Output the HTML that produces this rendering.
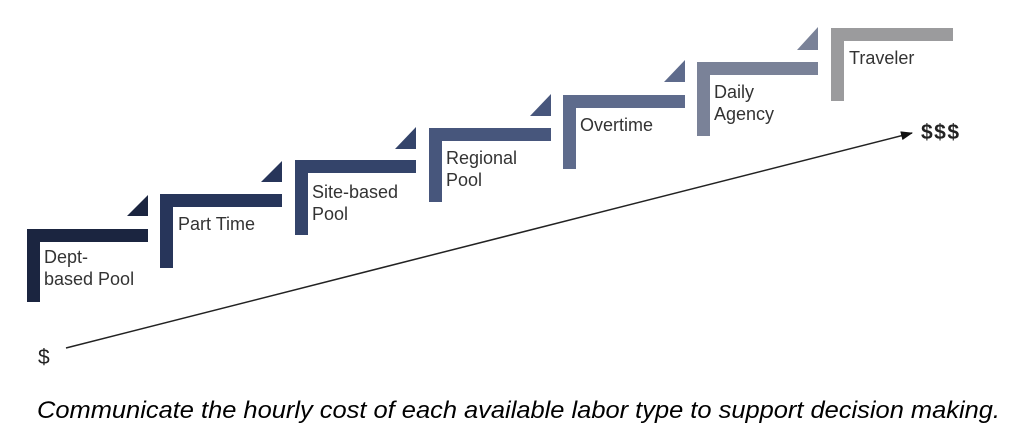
<!DOCTYPE html>
<html><head><meta charset="utf-8"><style>
html,body{margin:0;padding:0;background:#fff;width:1012px;height:440px;overflow:hidden}
svg text{font-family:"Liberation Sans",sans-serif}
</style></head><body>
<svg width="1012" height="440" viewBox="0 0 1012 440" xmlns="http://www.w3.org/2000/svg">
<defs><marker id="ah" markerWidth="12" markerHeight="9" refX="11" refY="4.5" orient="auto" markerUnits="userSpaceOnUse"><path d="M0,0 L12,4.5 L0,9 z" fill="#111"/></marker></defs>
<g>
<path d="M27,229 h121 v13 h-108 v60 h-13 z" fill="#1b2540"/>
<path d="M148,195 v21 h-21 z" fill="#1b2540"/>
<path d="M160,194 h122 v13 h-109 v61 h-13 z" fill="#27355a"/>
<path d="M282,161 v21 h-21 z" fill="#27355a"/>
<path d="M295,160 h121 v13 h-108 v62 h-13 z" fill="#34446a"/>
<path d="M416,127 v22 h-21 z" fill="#34446a"/>
<path d="M429,128 h122 v13 h-109 v61 h-13 z" fill="#47567c"/>
<path d="M551,94 v22 h-21 z" fill="#47567c"/>
<path d="M563,95 h122 v13 h-109 v61 h-13 z" fill="#5e6b8c"/>
<path d="M685,60 v22 h-21 z" fill="#5e6b8c"/>
<path d="M697,62 h121 v13 h-108 v61 h-13 z" fill="#7a8298"/>
<path d="M818,27 v23 h-21 z" fill="#7a8298"/>
<path d="M831,28 h122 v13 h-109 v60 h-13 z" fill="#9b9b9d"/>
</g>
<g font-size="18" fill="#333">
<text x="44" y="263">Dept-</text><text x="44" y="285">based Pool</text>
<text x="178" y="230">Part Time</text>
<text x="312" y="198">Site-based</text><text x="312" y="220">Pool</text>
<text x="446" y="164">Regional</text><text x="446" y="186">Pool</text>
<text x="580" y="131">Overtime</text>
<text x="714" y="98">Daily</text><text x="714" y="120">Agency</text>
<text x="849" y="64">Traveler</text>
</g>
<line x1="66" y1="348" x2="912" y2="133" stroke="#222" stroke-width="1.5" marker-end="url(#ah)"/>
<text x="38" y="364" font-size="21" fill="#222">$</text>
<text x="921" y="139" font-size="21" fill="#222" font-weight="bold" textLength="38">$$$</text>
<text x="37" y="418" font-size="24" font-style="italic" fill="#000" textLength="963" lengthAdjust="spacingAndGlyphs">Communicate the hourly cost of each available labor type to support decision making.</text>
</svg>
</body></html>
